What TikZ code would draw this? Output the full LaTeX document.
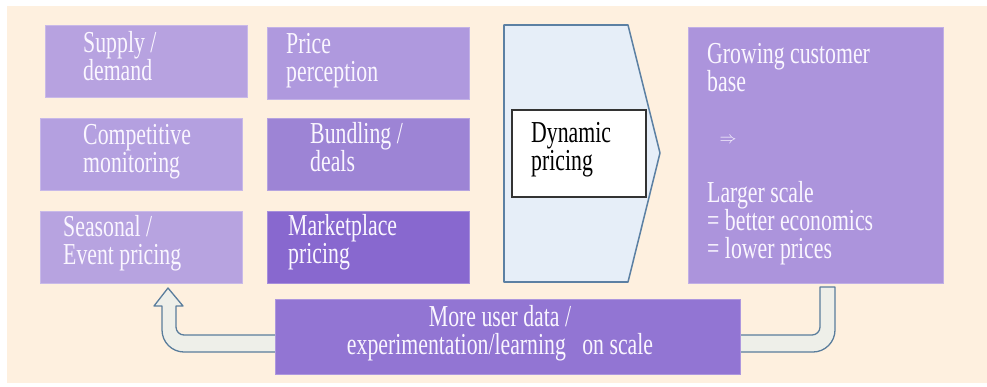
\documentclass[tikz,border=0pt]{standalone}
\usepackage{fontspec}
\setmainfont{Liberation Serif}[FakeStretch=0.715]
\usetikzlibrary{fit}
\definecolor{bgcream}{HTML}{FEF0DF}
\definecolor{supplyc}{HTML}{B7A2E0}
\definecolor{pricec}{HTML}{AF99DE}
\definecolor{compc}{HTML}{B4A0E0}
\definecolor{bundlec}{HTML}{9D84D5}
\definecolor{seasonc}{HTML}{B7A3E0}
\definecolor{marketc}{HTML}{8868CF}
\definecolor{growc}{HTML}{AC94DC}
\definecolor{datac}{HTML}{9275D3}
\definecolor{chevfill}{HTML}{E6EEF8}
\definecolor{chevline}{HTML}{5C80A3}
\definecolor{loopfill}{HTML}{EEEFE9}
\definecolor{loopline}{HTML}{5A7D9C}
\definecolor{tilefont}{HTML}{FAF6FF}
\tikzset{
    tile/.style={rectangle,fill=#1,draw=#1!75!white,line width=0.6pt,inner sep=0pt},
    % base anchor sits on the last line of the text
    tiletext/.style={anchor=base west,align=left,inner sep=0pt,text=tilefont,
        font=\fontsize{26pt}{23.9pt}\selectfont}
}
\begin{document}
\begin{tikzpicture}[x=0.03cm,y=-0.03cm]
    \useasboundingbox (0,0) rectangle (987,386);
    \fill[bgcream] (7,6) rectangle (987,383);

    % left grid of drivers
    \node[tile=supplyc,fit={(45,25) (247,97)}] (supply) {};
    \node[tile=pricec,fit={(267,27) (469,99)}] (price) {};
    \node[tile=compc,fit={(40,118) (242,190)}] (comp) {};
    \node[tile=bundlec,fit={(267,118) (469,190)}] (bundle) {};
    \node[tile=seasonc,fit={(40,211) (242,283)}] (season) {};
    \node[tile=marketc,fit={(267,211) (469,283)}] (market) {};
    \node[tiletext] (supply-t) at (83,80) {Supply /\\demand};
    \node[tiletext] (price-t) at (286,81) {Price\\perception};
    \node[tiletext] (comp-t) at (83,172) {Competitive\\monitoring};
    \node[tiletext] (bundle-t) at (310,171) {Bundling /\\deals};
    \node[tiletext] (season-t) at (63,264) {Seasonal /\\Event pricing};
    \node[tiletext] (market-t) at (288,263) {Marketplace\\pricing};

    % chevron
    \draw[fill=chevfill,draw=chevline,line width=1.3pt,line join=round]
        (504,25) -- (628,25) -- (660,153) -- (628,282) -- (504,282) -- cycle;
    \node[fit={(512,110) (646,197)},fill=white,draw=black!80,line width=1.2pt,inner sep=0pt] (dyn) {};
    \node[tiletext,text=black] (dyn-t) at (531,170) {Dynamic\\pricing};

    % outcome
    \node[tile=growc,fit={(688,27) (943,283)}] (grow) {};
    \node[tiletext] (grow-t) at (707,91) {Growing customer\\base};
    \node[tiletext,anchor=center,font=\fontsize{14pt}{15pt}\selectfont] (implies) at (728,140) {$\Rightarrow$};
    \node[tiletext] (scale-t) at (707,258) {Larger scale\\= better economics\\= lower prices};

    % feedback loop
    \draw[fill=loopfill,draw=loopline,line width=1.1pt,line join=round]
        (154,306) -- (168,288) -- (183,306) -- (176,306) -- (176,327)
        .. controls (176,331.4) and (179.6,335) .. (184,335) -- (812,335)
        .. controls (816.4,335) and (820,331.4) .. (820,327) -- (820,287) -- (835,287) -- (835,330)
        .. controls (835,342.1) and (825.1,352) .. (813,352) -- (184,352)
        .. controls (171.9,352) and (162,342.1) .. (162,330) -- (162,306) -- cycle;
    \node[tile=datac,fit={(275,299) (740,374)}] (data) {};
    \node[tiletext,anchor=base,align=center] (data-t) at (500,354)
        {More user data /\\experimentation/learning~~ on scale};
\end{tikzpicture}
\end{document}
